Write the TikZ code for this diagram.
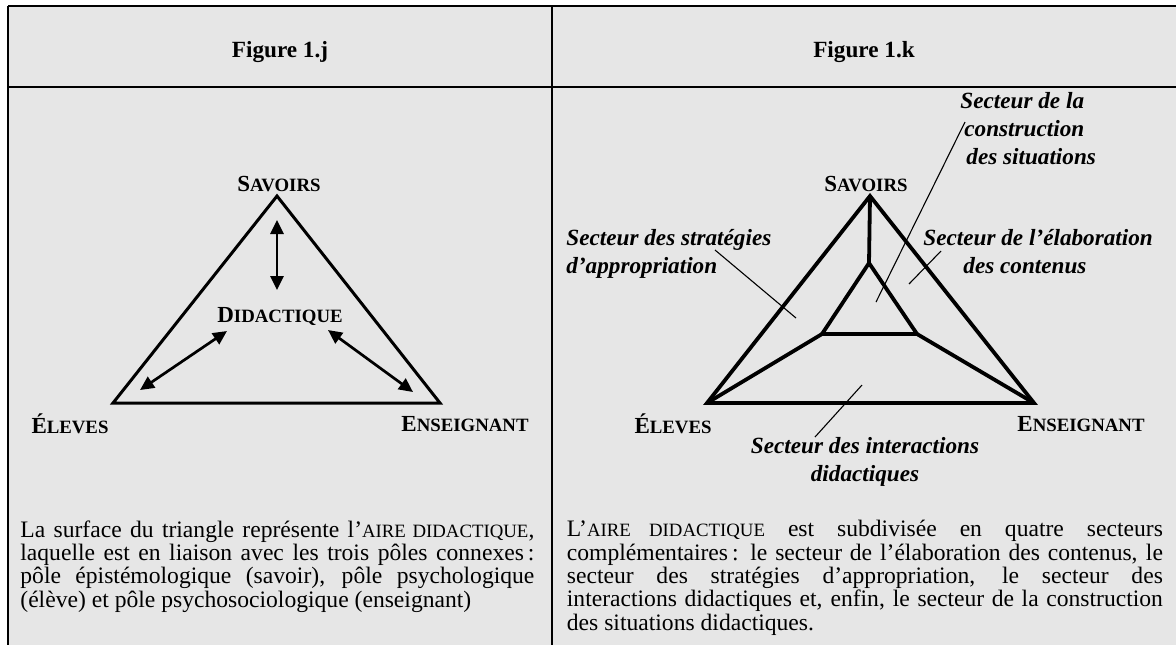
\documentclass[tikz,border=0pt]{standalone}
\usepackage{fontspec}
\setmainfont{Liberation Serif}
\usetikzlibrary{arrows.meta}
\definecolor{cellbg}{HTML}{E6E6E6}
\newcommand\smc[1]{{\fontsize{9.4}{9.4}\selectfont #1}}
\begin{document}
\begin{tikzpicture}[x=0.5pt,y=-0.5pt,
  rule/.style={line width=1.25pt},
  tri/.style={line width=1.5pt, line join=miter},
  tri2/.style={line width=1.9pt, line join=miter},
  dbl/.style={line width=1.35pt, {Triangle[length=7pt,width=6.5pt]}-{Triangle[length=7pt,width=6.5pt]}},
  leader/.style={line width=0.55pt},
  pole/.style={font=\fontsize{11.5}{13}\selectfont\bfseries, inner sep=0pt},
  sect/.style={font=\fontsize{11.6}{14}\selectfont\bfseries\itshape, inner sep=0pt, align=left},
  head/.style={font=\fontsize{11.6}{13}\selectfont\bfseries, inner sep=0pt},
  para/.style={inner sep=0pt, anchor=north west, align=justify, font=\fontsize{11.8}{11.67}\selectfont},
]
\useasboundingbox (0,0) rectangle (1176,645);
\fill[white] (0,0) rectangle (1176,645);
\fill[cellbg] (8,6) rectangle (1176,645);
% table rules
\coordinate (tl) at (8,6);
\coordinate (tr) at (1176,6);
\coordinate (bl) at (8,645);
\coordinate (ml) at (8,87);
\coordinate (mr) at (1176,87);
\coordinate (mt) at (552,6);
\coordinate (mb) at (552,645);
\draw[rule] (tl) -- (tr);
\draw[rule] (ml) -- (mr);
\draw[rule] (tl) -- (bl);
\draw[rule] (mt) -- (mb);
% headers
\node[head] (h1) at (280,52) {Figure 1.j};
\node[head] (h2) at (864,52) {Figure 1.k};

% ---------- left figure ----------
\coordinate (A1) at (277,196);
\coordinate (L1) at (113,403);
\coordinate (R1) at (440,403);
\draw[tri] (A1) -- (L1) -- (R1) -- cycle;
\node[pole] (sav1) at (279,184) {S\smc{AVOIRS}};
\node[pole] (did) at (280,316) {D\smc{IDACTIQUE}};
\node[pole] (ele1) at (70,424) {É\smc{LEVES}};
\node[pole] (ens1) at (465,424) {E\smc{NSEIGNANT}};
\coordinate (va) at (277,220);
\coordinate (vb) at (277,290);
\coordinate (la) at (140,390);
\coordinate (lb) at (227,331);
\coordinate (ra) at (328,330);
\coordinate (rb) at (413,392);
\draw[dbl] (va) -- (vb);
\draw[dbl] (la) -- (lb);
\draw[dbl] (ra) -- (rb);

% ---------- right figure ----------
\coordinate (A2) at (870,196);
\coordinate (L2) at (707,403);
\coordinate (R2) at (1034,403);
\coordinate (T2) at (869,263);
\coordinate (BL2) at (822,334);
\coordinate (BR2) at (917,334);
\draw[tri2] (A2) -- (L2) -- (R2) -- cycle;
\draw[tri2] (T2) -- (BL2) -- (BR2) -- cycle;
\draw[tri2] (A2) -- (T2);
\draw[tri2] (BL2) -- (L2);
\draw[tri2] (BR2) -- (R2);
\node[pole] (sav2) at (866,184) {S\smc{AVOIRS}};
\node[pole] (ele2) at (673,424) {É\smc{LEVES}};
\node[pole] (ens2) at (1081,424) {E\smc{NSEIGNANT}};

\node[sect, anchor=north west] (s1) at (960,92) {Secteur de la\\\hspace*{2pt}construction\\\hspace*{3pt}des situations};
\node[sect, anchor=north west] (s2) at (923,229) {Secteur de l’élaboration\\\hspace*{20pt}des contenus};
\node[sect, anchor=north west] (s3) at (566,229) {Secteur des stratégies\\d’appropriation};
\node[sect, anchor=north, align=center] (s4) at (865,437) {Secteur des interactions\\didactiques};

\coordinate (c1a) at (965,122);
\coordinate (c1b) at (876,302);
\coordinate (c2a) at (941,251);
\coordinate (c2b) at (909,284);
\coordinate (c3a) at (715,250);
\coordinate (c3b) at (796,318);
\coordinate (c4a) at (862,385);
\coordinate (c4b) at (815,437);
\draw[leader] (c1a) -- (c1b);
\draw[leader] (c2a) -- (c2b);
\draw[leader] (c3a) -- (c3b);
\draw[leader] (c4a) -- (c4b);

% ---------- paragraphs ----------
\node[para, text width=257pt] (p1) at (20,520) {\hyphenpenalty=10000\tolerance=10000\hbadness=10000
La surface du triangle représente l’\smc{AIRE DIDACTIQUE},\linebreak
laquelle est en liaison avec les trois pôles connexes\,:\linebreak
pôle épistémologique (savoir), pôle psychologique\linebreak
(élève) et pôle psychosociologique (enseignant)};
\node[para, text width=298pt] (p2) at (566.5,520) {\hyphenpenalty=10000\tolerance=10000\hbadness=10000
L’\smc{AIRE DIDACTIQUE} est subdivisée en quatre secteurs\linebreak
complémentaires\,: le secteur de l’élaboration des contenus, le\linebreak
secteur des stratégies d’appropriation, le secteur des\linebreak
interactions didactiques et, enfin, le secteur de la construction\linebreak
des situations didactiques.};
\end{tikzpicture}
\end{document}
